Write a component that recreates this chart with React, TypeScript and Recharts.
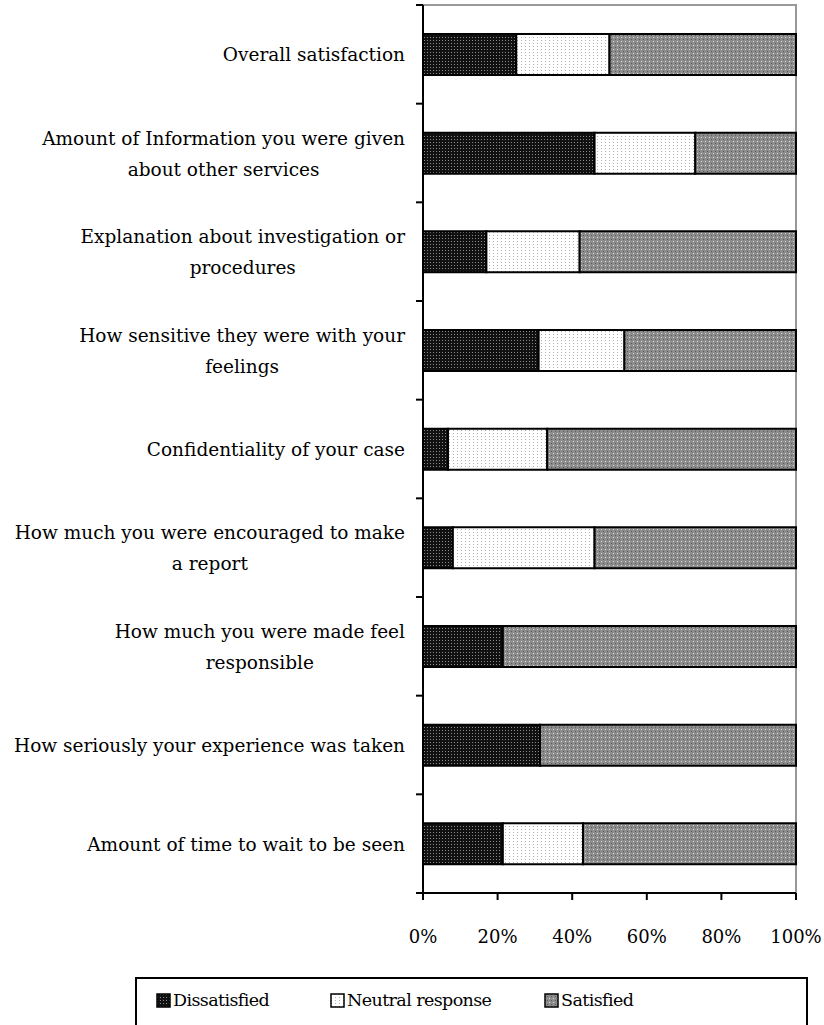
import React from "react";
import {
  BarChart,
  Bar,
  XAxis,
  YAxis,
  ReferenceArea,
} from "recharts";

const categories = [
  "Overall satisfaction",
  "Amount of Information you were given|about other services",
  "Explanation about investigation or|procedures",
  "How sensitive they were with your|feelings",
  "Confidentiality of your case",
  "How much you were encouraged to make|a report",
  "How much you were made feel|responsible",
  "How seriously your experience was taken",
  "Amount of time to wait to be seen",
];
const dissatisfied = [25, 46, 17, 31, 6.7, 8, 21.4, 31.4, 21.4];
const neutral = [25, 27, 25, 23, 26.6, 38, 0, 0, 21.5];
const satisfied = [50, 27, 58, 46, 66.7, 54, 78.6, 68.6, 57.1];
const xTicks = [0, 20, 40, 60, 80, 100];

const seriesNames = ["Dissatisfied", "Neutral response", "Satisfied"];
const seriesKeys = ["dissatisfied", "neutral", "satisfied"];
const seriesFills = ["url(#patDis)", "url(#patNeu)", "url(#patSat)"];

const chartData = categories.map((c, i) => ({
  name: c,
  dissatisfied: dissatisfied[i],
  neutral: neutral[i],
  satisfied: satisfied[i],
}));

const FONT = "'DejaVu Serif', serif";
const FS = 18.5;
const AXIS_X = 423;
const PLOT_TOP = 5;
const PLOT_H = 888;
const PLOT_W = 373;
const BAND = PLOT_H / categories.length;

let ctx: CanvasRenderingContext2D | null = null;
function textWidth(s: string) {
  if (!ctx) {
    ctx = document.createElement("canvas").getContext("2d");
  }
  if (!ctx) return s.length * 10;
  ctx.font = `${FS}px 'DejaVu Serif'`;
  return ctx.measureText(s).width;
}

function CategoryTick(props: any) {
  const { y, payload, index } = props;
  const lines: string[] = String(payload.value).split("|");
  const widest = Math.max(...lines.map(textWidth));
  const right = AXIS_X - 18;
  const cx = right - widest / 2;
  const lh = 31;
  const startY = y - ((lines.length - 1) * lh) / 2;
  return (
    <g>
      <line x1={AXIS_X - 7} x2={AXIS_X} y1={y - BAND / 2} y2={y - BAND / 2} stroke="#000" strokeWidth={2} />
      {index === categories.length - 1 && (
        <line x1={AXIS_X - 7} x2={AXIS_X} y1={y + BAND / 2} y2={y + BAND / 2} stroke="#000" strokeWidth={2} />
      )}
      <text x={cx} y={startY} textAnchor="middle" dominantBaseline="central" fontFamily={FONT} fontSize={FS} fill="#000">
        {lines.map((l, i) => (
          <tspan key={i} x={cx} y={startY + i * lh}>
            {l}
          </tspan>
        ))}
      </text>
    </g>
  );
}

function LegendBox() {
  return (
    <div
      style={{
        position: "absolute",
        left: 135,
        top: 977,
        width: 673,
        height: 60,
        border: "2px solid #000",
        boxSizing: "border-box",
        fontFamily: FONT,
        fontSize: 17.5,
        letterSpacing: -0.6,
      }}
    >
      {seriesNames.map((n, i) => (
        <div
          key={n}
          style={{
            position: "absolute",
            left: [19, 193, 407][i],
            top: 11,
            display: "flex",
            alignItems: "center",
            whiteSpace: "nowrap",
          }}
        >
          <svg width={15} height={15} style={{ marginRight: 2 }}>
            <rect x={1} y={1} width={13} height={13} fill={seriesFills[i]} stroke="#000" strokeWidth={1.5} />
          </svg>
          {n}
        </div>
      ))}
    </div>
  );
}

export default function App() {
  return (
    <div style={{ position: "absolute", left: 0, top: 0, width: 824, height: 1025, overflow: "hidden", background: "#fff" }}>
      <svg width={0} height={0} style={{ position: "absolute" }}>
        <defs>
          <pattern id="patDis" width={3} height={3} patternUnits="userSpaceOnUse">
            <rect width={3} height={3} fill="#111" />
            <rect x={1} y={1} width={1} height={1} fill="#8a8a8a" />
          </pattern>
          <pattern id="patNeu" width={4} height={3} patternUnits="userSpaceOnUse">
            <rect width={4} height={3} fill="#fff" />
            <rect x={1} y={1} width={1} height={1} fill="#b0b0b0" />
          </pattern>
          <pattern id="patSat" width={4} height={4} patternUnits="userSpaceOnUse">
            <rect width={4} height={4} fill="#8c8c8c" />
            <rect x={1} y={1} width={1} height={1} fill="#d8d8d8" />
            <rect x={3} y={3} width={1} height={1} fill="#5a5a5a" />
          </pattern>
        </defs>
      </svg>
      <BarChart
        width={824}
        height={1025}
        data={chartData}
        layout="vertical"
        margin={{ top: PLOT_TOP, right: 824 - AXIS_X - PLOT_W, left: 0, bottom: 1025 - PLOT_TOP - PLOT_H - 50 }}
        barCategoryGap={29}
      >
        <XAxis
          type="number"
          domain={[0, 100]}
          ticks={xTicks}
          tickFormatter={(v) => `${v}%`}
          axisLine={{ stroke: "#000", strokeWidth: 2 }}
          tickLine={{ stroke: "#000", strokeWidth: 2 }}
          tickSize={7}
          tick={{ fill: "#000", fontFamily: FONT, fontSize: 18, dy: 28 }}
          height={50}
          interval={0}
        />
        <YAxis
          type="category"
          dataKey="name"
          width={AXIS_X}
          axisLine={{ stroke: "#000", strokeWidth: 2 }}
          tickLine={false}
          tick={<CategoryTick />}
          interval={0}
        />
        <ReferenceArea
          x1={0}
          x2={100}
          fill="none"
          stroke="#999"
          strokeWidth={2}
          strokeDasharray={`${PLOT_W + PLOT_H} ${PLOT_W + PLOT_H}`}
          ifOverflow="visible"
        />
        {seriesKeys.map((k, i) => (
          <Bar
            key={k}
            dataKey={k}
            name={seriesNames[i]}
            stackId="a"
            fill={seriesFills[i]}
            stroke="#000"
            strokeWidth={2}
            isAnimationActive={false}
          />
        ))}
      </BarChart>
      <LegendBox />
    </div>
  );
}
